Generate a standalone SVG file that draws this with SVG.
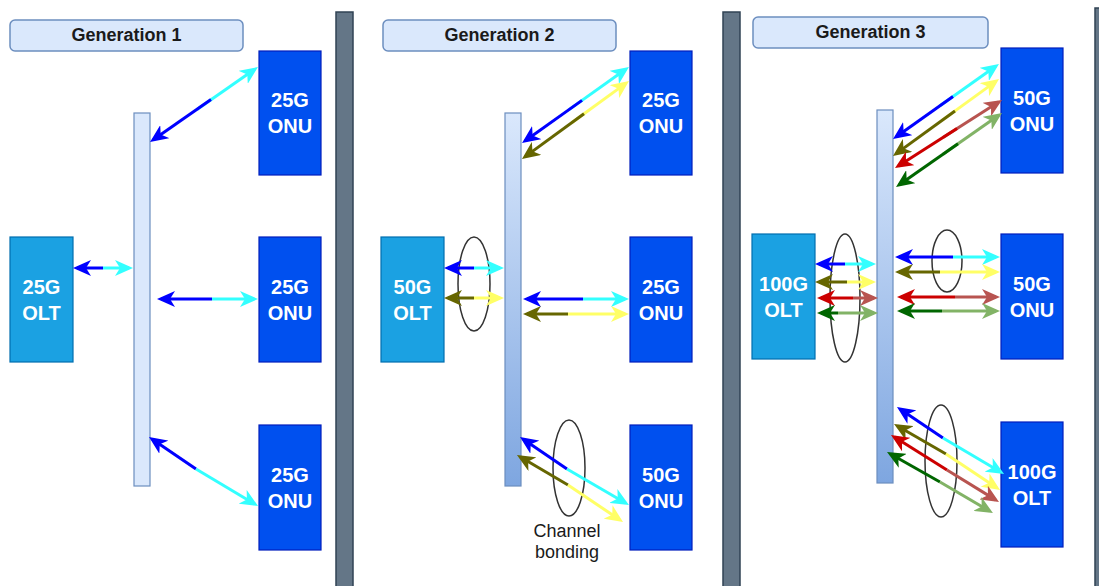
<svg xmlns="http://www.w3.org/2000/svg" width="1099" height="586" viewBox="0 0 1099 586">
<style>
.title{fill:#dae8fc;stroke:#6c8ebf;stroke-width:1.5}
.ttext{font-family:"Liberation Sans",Arial,sans-serif;font-weight:bold;font-size:18px;fill:#1a1a1a;text-anchor:middle}
.sep{fill:#647687;stroke:#314354;stroke-width:1.5}
.spl{fill:#dae8fc;stroke:#6c8ebf;stroke-width:1.2}
.splg{fill:url(#gr);stroke:#6c8ebf;stroke-width:1.2}
.onu{fill:#0050ef;stroke:#001dbc;stroke-width:1.2}
.olt{fill:#1ba1e2;stroke:#006eaf;stroke-width:1.2}
.ntext{font-family:"Liberation Sans",Arial,sans-serif;font-weight:bold;font-size:20px;fill:#ffffff;text-anchor:middle}
.ell{fill:none;stroke:#333333;stroke-width:1.5}
.lbl{font-family:"Liberation Sans",Arial,sans-serif;font-size:18px;fill:#1a1a1a;text-anchor:middle}
.a{fill:none;stroke-width:3}
.b{stroke:#0000ff;marker-end:url(#m-b)}
.c{stroke:#33ffff;marker-end:url(#m-c)}
.o{stroke:#666600;marker-end:url(#m-o)}
.y{stroke:#ffff66;marker-end:url(#m-y)}
.r{stroke:#cc0000;marker-end:url(#m-r)}
.br{stroke:#b85450;marker-end:url(#m-br)}
.g{stroke:#006600;marker-end:url(#m-g)}
.lg{stroke:#82b366;marker-end:url(#m-lg)}
</style>
<defs>
<linearGradient id="gr" x1="0" y1="0" x2="0" y2="1">
<stop offset="0" stop-color="#dae8fc"/>
<stop offset="1" stop-color="#7ea6e0"/>
</linearGradient>
<marker id="m-b" viewBox="0 0 18 16" refX="14" refY="8" markerWidth="18" markerHeight="16" markerUnits="userSpaceOnUse" orient="auto"><path d="M0,0 L18,8 L0,16 L5,8 Z" fill="#0000ff"/></marker>
<marker id="m-c" viewBox="0 0 18 16" refX="14" refY="8" markerWidth="18" markerHeight="16" markerUnits="userSpaceOnUse" orient="auto"><path d="M0,0 L18,8 L0,16 L5,8 Z" fill="#33ffff"/></marker>
<marker id="m-o" viewBox="0 0 18 16" refX="14" refY="8" markerWidth="18" markerHeight="16" markerUnits="userSpaceOnUse" orient="auto"><path d="M0,0 L18,8 L0,16 L5,8 Z" fill="#666600"/></marker>
<marker id="m-y" viewBox="0 0 18 16" refX="14" refY="8" markerWidth="18" markerHeight="16" markerUnits="userSpaceOnUse" orient="auto"><path d="M0,0 L18,8 L0,16 L5,8 Z" fill="#ffff66"/></marker>
<marker id="m-r" viewBox="0 0 18 16" refX="14" refY="8" markerWidth="18" markerHeight="16" markerUnits="userSpaceOnUse" orient="auto"><path d="M0,0 L18,8 L0,16 L5,8 Z" fill="#cc0000"/></marker>
<marker id="m-br" viewBox="0 0 18 16" refX="14" refY="8" markerWidth="18" markerHeight="16" markerUnits="userSpaceOnUse" orient="auto"><path d="M0,0 L18,8 L0,16 L5,8 Z" fill="#b85450"/></marker>
<marker id="m-g" viewBox="0 0 18 16" refX="14" refY="8" markerWidth="18" markerHeight="16" markerUnits="userSpaceOnUse" orient="auto"><path d="M0,0 L18,8 L0,16 L5,8 Z" fill="#006600"/></marker>
<marker id="m-lg" viewBox="0 0 18 16" refX="14" refY="8" markerWidth="18" markerHeight="16" markerUnits="userSpaceOnUse" orient="auto"><path d="M0,0 L18,8 L0,16 L5,8 Z" fill="#82b366"/></marker>
</defs>
<rect width="1099" height="586" fill="#ffffff"/>

<!-- separators -->
<g id="separators">
<rect class="sep" x="336" y="12" width="17" height="590"/>
<rect class="sep" x="723" y="12" width="17" height="590"/>
<rect class="sep" x="1095" y="8" width="17" height="590"/>
</g>

<!-- titles -->
<g id="title1"><rect class="title" x="10" y="20" width="233" height="31" rx="5"/><text class="ttext" x="126.5" y="41">Generation 1</text></g>
<g id="title2"><rect class="title" x="383" y="20" width="233" height="31" rx="5"/><text class="ttext" x="499.5" y="41">Generation 2</text></g>
<g id="title3"><rect class="title" x="753" y="17" width="235" height="31" rx="5"/><text class="ttext" x="870.5" y="38">Generation 3</text></g>

<!-- Generation 1 nodes -->
<g id="g1-splitter"><rect class="spl" x="134" y="113" width="16" height="373"/></g>
<g id="g1-olt"><rect class="olt" x="10" y="237" width="63" height="125"/><text class="ntext" x="41.5" y="293.5">25G</text><text class="ntext" x="41.5" y="319.5">OLT</text></g>
<g id="g1-onu1"><rect class="onu" x="259" y="51" width="62" height="124"/><text class="ntext" x="290" y="107">25G</text><text class="ntext" x="290" y="133">ONU</text></g>
<g id="g1-onu2"><rect class="onu" x="259" y="237" width="62" height="125"/><text class="ntext" x="290" y="293.5">25G</text><text class="ntext" x="290" y="319.5">ONU</text></g>
<g id="g1-onu3"><rect class="onu" x="259" y="425" width="62" height="125"/><text class="ntext" x="290" y="481.5">25G</text><text class="ntext" x="290" y="507.5">ONU</text></g>

<!-- Generation 2 nodes -->
<g id="g2-splitter"><rect class="splg" x="505" y="113" width="16" height="373"/></g>
<g id="g2-olt"><rect class="olt" x="381" y="237" width="63" height="125"/><text class="ntext" x="412.5" y="293.5">50G</text><text class="ntext" x="412.5" y="319.5">OLT</text></g>
<g id="g2-onu1"><rect class="onu" x="630" y="51" width="62" height="124"/><text class="ntext" x="661" y="107">25G</text><text class="ntext" x="661" y="133">ONU</text></g>
<g id="g2-onu2"><rect class="onu" x="630" y="237" width="62" height="125"/><text class="ntext" x="661" y="293.5">25G</text><text class="ntext" x="661" y="319.5">ONU</text></g>
<g id="g2-onu3"><rect class="onu" x="630" y="425" width="62" height="125"/><text class="ntext" x="661" y="481.5">50G</text><text class="ntext" x="661" y="507.5">ONU</text></g>
<g id="g2-bond1"><ellipse class="ell" cx="474" cy="284" rx="16" ry="47"/></g>
<g id="g2-bond2"><ellipse class="ell" cx="569" cy="468" rx="16" ry="48"/></g>
<g id="g2-label"><text class="lbl" x="567" y="537">Channel</text><text class="lbl" x="567" y="558">bonding</text></g>

<!-- Generation 3 nodes -->
<g id="g3-splitter"><rect class="splg" x="877" y="110" width="16" height="373"/></g>
<g id="g3-olt"><rect class="olt" x="752" y="234" width="63" height="125"/><text class="ntext" x="783.5" y="290.5">100G</text><text class="ntext" x="783.5" y="316.5">OLT</text></g>
<g id="g3-onu1"><rect class="onu" x="1001" y="48" width="62" height="125"/><text class="ntext" x="1032" y="104.5">50G</text><text class="ntext" x="1032" y="130.5">ONU</text></g>
<g id="g3-onu2"><rect class="onu" x="1001" y="234" width="62" height="125"/><text class="ntext" x="1032" y="290.5">50G</text><text class="ntext" x="1032" y="316.5">ONU</text></g>
<g id="g3-onu3"><rect class="onu" x="1001" y="422" width="62" height="125"/><text class="ntext" x="1032" y="478.5">100G</text><text class="ntext" x="1032" y="504.5">OLT</text></g>
<g id="g3-bond1"><ellipse class="ell" cx="845" cy="298" rx="15" ry="64"/></g>
<g id="g3-bond2"><ellipse class="ell" cx="947" cy="261" rx="15" ry="31"/></g>
<g id="g3-bond3"><ellipse class="ell" cx="941" cy="461" rx="16" ry="56"/></g>

<!-- connectors -->
<g id="connectors">
<!-- gen1 -->
<path class="a c" d="M197,109.4 L254.7,69.3"/>
<path class="a b" d="M211,99.6 L153.3,139.7"/>
<path class="a b" d="M103,268 L77,268"/>
<path class="a c" d="M103,268 L129,268"/>
<path class="a b" d="M212,299 L161,299"/>
<path class="a c" d="M212,299 L254,299"/>
<path class="a b" d="M196,469 L152.3,439.2"/>
<path class="a c" d="M196,469 L254.6,504"/>
<!-- gen2 -->
<path class="a b" d="M474,268 L448,268"/>
<path class="a c" d="M474,268 L500,268"/>
<path class="a o" d="M474,298 L448,298"/>
<path class="a y" d="M474,298 L500,298"/>
<path class="a b" d="M583,299 L527,299"/>
<path class="a c" d="M583,299 L625,299"/>
<path class="a o" d="M568,314 L527,314"/>
<path class="a y" d="M568,314 L625,314"/>
<path class="a c" d="M569,109.6 L625.7,69.3"/>
<path class="a b" d="M582,100.4 L525.3,140.7"/>
<path class="a y" d="M572,122.5 L625.8,83.4"/>
<path class="a o" d="M584,113.8 L525.2,156.6"/>
<path class="a b" d="M567,469 L523.3,439.2"/>
<path class="a c" d="M567,469 L625.5,503"/>
<path class="a o" d="M568,485 L520.4,457"/>
<path class="a y" d="M568,485 L619.7,519.8"/>
<!-- gen3 left -->
<path class="a b" d="M845,264 L819,264"/>
<path class="a c" d="M845,264 L872,264"/>
<path class="a o" d="M847,282 L819,282"/>
<path class="a y" d="M847,282 L872,282"/>
<path class="a r" d="M853,298 L821,298"/>
<path class="a br" d="M853,298 L874,298"/>
<path class="a g" d="M838,313 L821,313"/>
<path class="a lg" d="M838,313 L874,313"/>
<!-- gen3 middle -->
<path class="a b" d="M953,257 L899,257"/>
<path class="a c" d="M953,257 L996,257"/>
<path class="a o" d="M940,272 L899,272"/>
<path class="a y" d="M940,272 L996,272"/>
<path class="a r" d="M955,297 L901,297"/>
<path class="a br" d="M955,297 L996,297"/>
<path class="a g" d="M942,311 L901,311"/>
<path class="a lg" d="M942,311 L996,311"/>
<!-- gen3 top -->
<path class="a c" d="M940,105.7 L995.7,66.3"/>
<path class="a b" d="M953,96.5 L896.3,136.7"/>
<path class="a y" d="M942,120.4 L995.8,81.4"/>
<path class="a o" d="M955,111 L896.2,153.6"/>
<path class="a br" d="M943,137.5 L998.6,102.1"/>
<path class="a r" d="M957,128.6 L898.4,165.9"/>
<path class="a lg" d="M943,154.2 L998.7,115.3"/>
<path class="a g" d="M958,143.7 L899.3,184.7"/>
<!-- gen3 bottom -->
<path class="a b" d="M943,438 L900.3,409.2"/>
<path class="a c" d="M943,438 L1000.6,472"/>
<path class="a o" d="M946,454 L897.5,426"/>
<path class="a y" d="M946,454 L996.7,487.8"/>
<path class="a r" d="M947,470 L894.4,437.1"/>
<path class="a br" d="M947,470 L995.6,499.9"/>
<path class="a g" d="M940,482 L890.5,454"/>
<path class="a lg" d="M940,482 L989.5,511"/>
</g>
</svg>
